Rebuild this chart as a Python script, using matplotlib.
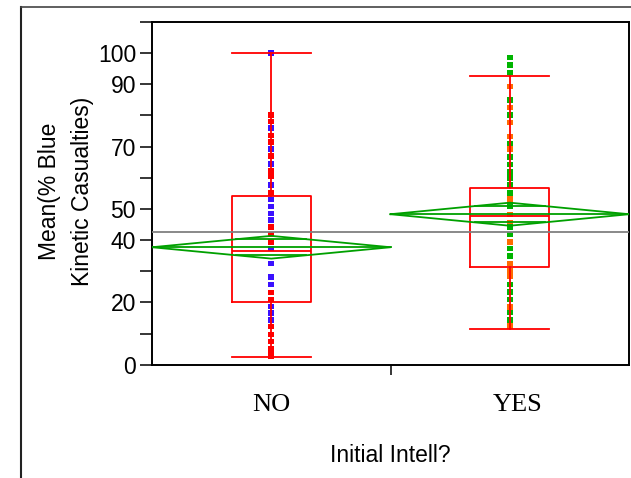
import matplotlib
matplotlib.use('Agg')
import matplotlib.pyplot as plt
from matplotlib.lines import Line2D
import numpy as np

plt.rcParams.update({
    'font.family': 'Liberation Sans',
    'font.size': 16.5,
})

# categories
groups = ['NO', 'YES']

no_vals = [100, 80.2, 78.1, 76.0, 73.6, 71.5, 69.2, 66.9, 64.5, 62.1, 60.5, 57.6,
           55.1, 53.0, 50.8, 48.5, 46.4, 44.2, 41.8, 39.4, 37.3, 32.5, 28.1, 25.7,
           23.2, 20.9, 18.7, 16.6, 14.3, 12.2, 9.7, 7.5, 5.2, 3.5, 2.6]
no_cols = list('BRRBRRBRBRRBRBBBBRRRBBBBRRBBBRRRRRR')

yes_vals = [98.6, 96.2, 93.8, 89.3, 85.0, 82.6, 80.2, 77.8, 73.3, 70.9, 69.2, 66.7,
            64.2, 61.9, 59.9, 57.6, 55.1, 53.2, 51.4, 50.8, 48.2, 45.7, 44.2, 41.8,
            39.3, 37.3, 34.8, 32.5, 30.0, 28.4, 25.7, 23.3, 20.9, 18.6, 16.7, 14.3, 12.4]
yes_cols = list('GGGOGOGOOGOGGGGGGOGGOOGGOGGOOOGGGOGGO')

palette = {'B': '#3a10ff', 'R': '#ff0000', 'G': '#00b400', 'O': '#ff6a00'}

# box plot summaries
q1 = [20.0, 31.5]
med = [36.6, 47.7]
q3 = [54.2, 56.8]
whislo = [2.4, 11.5]
whishi = [100.0, 92.7]

# group means and 95% CI half widths (means diamonds)
means = [37.7, 48.3]
ci_half = [3.65, 3.7]
grand_mean = 42.7

fig = plt.figure(figsize=(6.31, 4.78), dpi=100)
ax = fig.add_axes([0.2409, 0.2364, 0.756, 0.7176])

# points
for i, (vals, cols) in enumerate([(no_vals, no_cols), (yes_vals, yes_cols)]):
    ax.scatter(np.full(len(vals), i), vals, marker='s', s=16,
               c=[palette[c] for c in cols], linewidths=0, zorder=2)

# box plots
stats = []
for i in range(len(groups)):
    stats.append({'q1': q1[i], 'med': med[i], 'q3': q3[i],
                  'whislo': whislo[i], 'whishi': whishi[i], 'fliers': []})
red = dict(color='#ff0000', linewidth=1.3)
ax.bxp(stats, positions=[0, 1], widths=0.33, showfliers=False,
       boxprops=red, medianprops=red, whiskerprops=red, capprops=red,
       capwidths=0.33, zorder=3)

# grand mean
ax.axhline(grand_mean, color='#808080', linewidth=1.3, zorder=3)

# means diamonds with overlap marks
green = '#00a000'
k = 1 / np.sqrt(2)
for i in range(len(groups)):
    m, h = means[i], ci_half[i]
    xs = [i - 0.5, i, i + 0.5, i, i - 0.5]
    ys = [m, m + h, m, m - h, m]
    ax.plot(xs, ys, color=green, linewidth=1.3, zorder=4)
    ax.plot([i - 0.5, i + 0.5], [m, m], color=green, linewidth=1.3, zorder=4)
    f = 0.5 * (1 - k)
    for s in (1, -1):
        ax.plot([i - f, i + f], [m + s * h * k, m + s * h * k],
                color=green, linewidth=1.3, zorder=4)

ax.set_xlim(-0.5, 1.5)
ax.set_ylim(-0.1, 110)

yt = list(range(0, 111, 10))
shown = {0, 20, 40, 50, 70, 90, 100}
ax.set_yticks(yt)
ax.set_yticklabels([str(v) if v in shown else '' for v in yt])
ax.tick_params(axis='y', length=8.5, width=1.1, pad=3, direction='out')

# category labels (YES label sits a little right of its column, as in JMP)
ax.set_xticks([0, 1.034])
ax.set_xticklabels(groups, family='Liberation Serif', fontsize=19)
ax.set_xticks([0.5], minor=True)
ax.tick_params(axis='x', which='major', length=0, pad=21)
ax.tick_params(axis='x', which='minor', length=7, width=1.1, direction='out')

for sp in ax.spines.values():
    sp.set_linewidth(1.4)
    sp.set_color('black')

ax.set_xlabel('Initial Intell?', labelpad=20)
fig.text(66 / 631, 1 - 191 / 478, 'Mean(% Blue\nKinetic Casualties)',
         rotation=90, ha='center', va='center', linespacing=1.5)

# outer panel border
fig.add_artist(Line2D([21 / 631, 21 / 631], [0, 1 - 6.5 / 478],
                      transform=fig.transFigure, color='#222222', linewidth=1.5))
fig.add_artist(Line2D([21 / 631, 1], [1 - 6.5 / 478, 1 - 6.5 / 478],
                      transform=fig.transFigure, color='#444444', linewidth=1.2))

fig.savefig('out.png', dpi=100)
